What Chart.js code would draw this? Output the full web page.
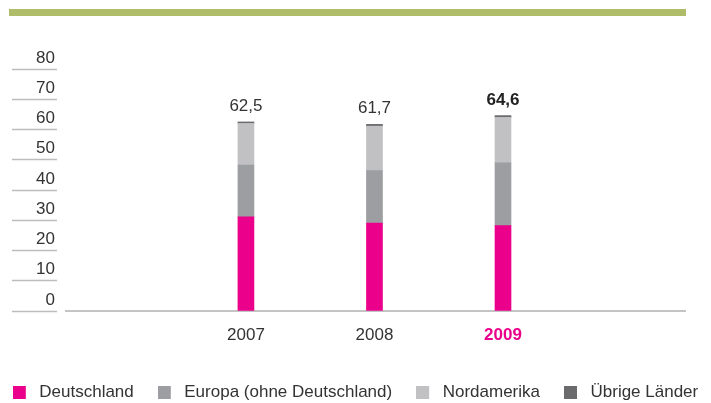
<!DOCTYPE html>
<html><head><meta charset="utf-8">
<script src="https://cdn.jsdelivr.net/npm/chart.js@4.4.1/dist/chart.umd.min.js"></script>
<style>
html,body{margin:0;padding:0;background:#fff}
#wrap{position:relative;width:711px;height:403px}
#topbar{position:absolute;left:9px;top:9px;width:677px;height:7px;background:#afbd6b}
canvas{position:absolute;left:0;top:0}
</style>
</head><body>
<div id="wrap"><div id="topbar"></div><canvas id="c" width="711" height="403"></canvas></div>
<script>
const years = ['2007', '2008', '2009'];
const highlightYear = '2009';
const deutschland = [31.1, 29.1, 28.2];
const europa = [17.1, 17.3, 20.8];
const nordamerika = [13.8, 14.7, 15.0];
const uebrige = [0.5, 0.6, 0.6];
const totals = [62.5, 61.7, 64.6];
const seriesNames = ['Deutschland', 'Europa (ohne Deutschland)', 'Nordamerika', 'Übrige Länder'];
const seriesColors = ['#ea008a', '#9d9ea1', '#c1c1c3', '#6b6b6d'];

const FONT = "'Liberation Sans', Arial, sans-serif";
const MAGENTA = '#ea008a';

function makeBox(color) {
  const c = document.createElement('canvas');
  c.width = 18; c.height = 13;
  const g = c.getContext('2d');
  g.fillStyle = color;
  g.fillRect(0, 0, 13, 13);
  return c;
}
const boxImgs = seriesColors.map(makeBox);

const totalsPlugin = {
  id: 'totals',
  afterDatasetsDraw(chart) {
    const meta = chart.getDatasetMeta(chart.data.datasets.length - 1);
    const ctx = chart.ctx;
    const yScale = chart.scales.y;
    ctx.save();
    meta.data.forEach((bar, i) => {
      const bold = years[i] === highlightYear;
      ctx.font = (bold ? 'bold ' : '') + '17px ' + FONT;
      ctx.fillStyle = bold ? '#222' : '#333';
      ctx.textAlign = 'center';
      ctx.textBaseline = 'alphabetic';
      ctx.fillText(totals[i].toFixed(1).replace('.', ','), bar.x, yScale.getPixelForValue(totals[i]) - 11);
    });
    ctx.restore();
  }
};

const values = [deutschland, europa, nordamerika, uebrige];
const isHi = (c) => !!(c.tick && String(c.tick.value) === highlightYear);

new Chart(document.getElementById('c'), {
  type: 'bar',
  data: {
    labels: years,
    datasets: values.map((v, i) => ({
      label: seriesNames[i],
      data: v,
      backgroundColor: seriesColors[i],
      borderWidth: 0,
      barThickness: 16
    }))
  },
  plugins: [totalsPlugin],
  options: {
    responsive: false,
    animation: false,
    devicePixelRatio: 1,
    layout: { padding: { left: -14, right: -14, top: 69, bottom: -8 } },
    scales: {
      x: {
        type: 'linear',
        stacked: true,
        bounds: 'data',
        offset: false,
        min: 2005.6,
        max: 2010.416,
        grid: { display: false },
        border: { display: true, color: '#c4c4c4', width: 2 },
        afterBuildTicks: (s) => { s.ticks = years.map((y) => ({ value: Number(y) })); },
        ticks: {
          autoSkip: false,
          maxRotation: 0,
          padding: 6,
          callback: (v) => String(v),
          color: (c) => isHi(c) ? MAGENTA : '#333',
          font: (c) => ({ size: 17, family: FONT, weight: isHi(c) ? 'bold' : 'normal' })
        },
        afterFit: (s) => { s.height = 49; }
      },
      y: {
        stacked: true,
        min: 0,
        max: 80,
        ticks: { stepSize: 10, padding: -43, labelOffset: -11, color: '#333', font: { size: 17, family: FONT } },
        grid: { display: true, drawOnChartArea: false, drawTicks: true, tickLength: 54, tickColor: '#bdbdbd', tickWidth: 1.5, tickBorderDash: [45, 60] },
        border: { display: false },
        afterFit: (s) => { s.width = 80; }
      },
      y2: {
        position: 'right',
        display: true,
        grid: { display: false },
        ticks: { display: false },
        border: { display: false },
        afterFit: (s) => { s.width = 40; }
      }
    },
    plugins: {
      tooltip: { enabled: false },
      legend: {
        position: 'bottom',
        labels: {
          usePointStyle: true,
          pointStyleWidth: 18,
          boxHeight: 13,
          padding: 24,
          color: '#333',
          font: { size: 17, family: FONT },
          generateLabels: (chart) => Chart.defaults.plugins.legend.labels.generateLabels(chart)
            .map((it) => Object.assign(it, { pointStyle: boxImgs[it.datasetIndex] }))
        }
      }
    }
  }
});
</script>
</body></html>
